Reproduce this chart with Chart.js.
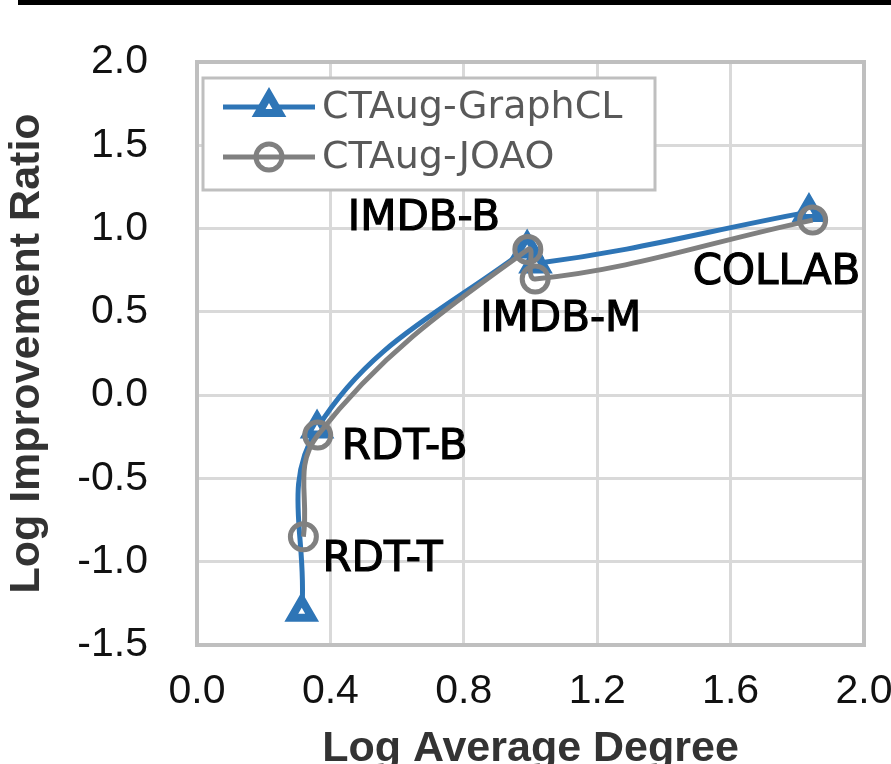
<!DOCTYPE html>
<html>
<head>
<meta charset="utf-8">
<script src="https://cdn.jsdelivr.net/npm/chart.js@4"></script>
<style>
	html, body { margin: 0; padding: 0; background: #fff; overflow: hidden; }
	.quadro { position: relative; width: 891px; height: 764px; }
	.barra { position: absolute; left: 18px; top: 0; width: 873px; height: 5px; background: #000; }
</style>
</head>
<body>
<div class="quadro">
	<canvas id="grafico" width="891" height="764"></canvas>
	<div class="barra"></div>
</div>
<script>
// dados
const datasets_nomes = ["RDT-T", "RDT-B", "IMDB-B", "IMDB-M", "COLLAB"]
const graphcl_x = [0.314, 0.36, 0.99, 1.015, 1.835]
const graphcl_y = [-1.30, -0.20, 0.88, 0.79, 1.10]
const joao_x = [0.319, 0.362, 0.992, 1.014, 1.846]
const joao_y = [-0.85, -0.24, 0.874, 0.697, 1.051]
const series_nomes = ["CTAug-GraphCL", "CTAug-JOAO"]
const x_ticks = [0.0, 0.4, 0.8, 1.2, 1.6, 2.0]
const y_ticks = [-1.5, -1.0, -0.5, 0.0, 0.5, 1.0, 1.5, 2.0]

const AZUL = "#2e75b6"
const CINZA = "#808080"

// deslocamento dos rotulos (px) em relacao ao ponto do JOAO
const rotulo_offset = [[19, 23], [24, 13], [-180, -30], [-55, 41], [-120, 53]]

function pontos(xs, ys) {
	return xs.map((x, i) => ({ x: x, y: ys[i] }))
}

function semPadding(scale) {
	scale.paddingLeft = 0
	scale.paddingRight = 0
	scale.paddingTop = 0
	scale.paddingBottom = 0
}

var moldura = {
	id: "moldura",
	afterDraw(chart) {
		const { ctx, chartArea } = chart
		ctx.save()
		ctx.strokeStyle = "#bfbfbf"
		ctx.lineWidth = 4
		ctx.strokeRect(chartArea.left, chartArea.top, chartArea.right - chartArea.left, chartArea.bottom - chartArea.top)
		ctx.restore()
	}
}

var rotulos = {
	id: "rotulos",
	afterDatasetsDraw(chart) {
		const ctx = chart.ctx
		const meta = chart.getDatasetMeta(1)
		ctx.save()
		ctx.font = "42px 'DejaVu Sans'"
		ctx.fillStyle = "#000"
		ctx.strokeStyle = "#000"
		ctx.lineWidth = 1.2
		ctx.textAlign = "left"
		ctx.textBaseline = "middle"
		meta.data.forEach((p, i) => {
			let x = p.x + rotulo_offset[i][0]
			let y = p.y + rotulo_offset[i][1]
			ctx.fillText(datasets_nomes[i], x, y)
			ctx.strokeText(datasets_nomes[i], x, y)
		})
		ctx.restore()
	}
}

var legenda = {
	id: "legenda",
	afterDraw(chart) {
		const ctx = chart.ctx
		ctx.save()
		ctx.fillStyle = "#fff"
		ctx.fillRect(203, 78, 452, 112)
		ctx.strokeStyle = "#bfbfbf"
		ctx.lineWidth = 3
		ctx.strokeRect(203, 78, 452, 112)
		chart.data.datasets.forEach((ds, i) => {
			const y = 107 + i * 50
			ctx.strokeStyle = ds.borderColor
			ctx.lineWidth = ds.borderWidth
			ctx.beginPath()
			ctx.moveTo(223, y)
			ctx.lineTo(315, y)
			ctx.stroke()
			ctx.fillStyle = ds.pointBackgroundColor
			ctx.lineWidth = ds.pointBorderWidth
			Chart.helpers.drawPoint(ctx, { pointStyle: ds.pointStyle, radius: ds.pointRadius, borderWidth: ds.pointBorderWidth, rotation: 0 }, 269, y)
			ctx.fillStyle = "#595959"
			ctx.font = "38px 'DejaVu Sans'"
			ctx.textAlign = "left"
			ctx.textBaseline = "middle"
			ctx.fillText(series_nomes[i], 322, y + 1)
		})
		ctx.restore()
	}
}

var config = {
	type: "line",
	data: {
		datasets: [
			{
				label: series_nomes[0],
				data: pontos(graphcl_x, graphcl_y),
				borderColor: AZUL,
				backgroundColor: "#fff",
				borderWidth: 5,
				pointStyle: "triangle",
				pointRadius: 12,
				pointBorderWidth: 8,
				pointBackgroundColor: "#fff",
				tension: 0.4,
				order: 1
			},
			{
				label: series_nomes[1],
				data: pontos(joao_x, joao_y),
				borderColor: CINZA,
				backgroundColor: "rgba(0,0,0,0)",
				borderWidth: 5,
				pointStyle: "circle",
				pointRadius: 13,
				pointBorderWidth: 5,
				pointBackgroundColor: "rgba(255,255,255,0)",
				tension: 0.4,
				order: 0
			}
		]
	},
	options: {
		responsive: false,
		devicePixelRatio: 1,
		animation: false,
		layout: { padding: { top: 62, right: 27, left: 0, bottom: 0 } },
		plugins: {
			legend: { display: false },
			tooltip: { enabled: false }
		},
		scales: {
			x: {
				type: "linear",
				min: 0,
				max: 2,
				afterFit(scale) { scale.height = 119; semPadding(scale) },
				afterBuildTicks(scale) { scale.ticks = x_ticks.map(v => ({ value: v })) },
				grid: { color: "#d9d9d9", lineWidth: 3, drawTicks: false },
				border: { display: false },
				ticks: {
					padding: 22,
					color: "#111",
					font: { family: "'Liberation Sans', Arial", size: 41 },
					callback: v => v.toFixed(1)
				},
				title: {
					display: true,
					text: "Log Average Degree",
					color: "#333",
					padding: { top: 0, bottom: -7 },
					font: { family: "'Liberation Sans', Arial", size: 43, weight: "bold", lineHeight: 1 }
				}
			},
			y: {
				type: "linear",
				min: -1.5,
				max: 2,
				afterFit(scale) { scale.width = 197; semPadding(scale) },
				afterBuildTicks(scale) { scale.ticks = y_ticks.map(v => ({ value: v })) },
				grid: { color: "#d9d9d9", lineWidth: 3, drawTicks: false },
				border: { display: false },
				ticks: {
					padding: 49,
					color: "#111",
					font: { family: "'Liberation Sans', Arial", size: 41 },
					callback: v => v.toFixed(1)
				},
				title: {
					display: true,
					text: "Log Improvement Ratio",
					color: "#333",
					padding: { top: 6, bottom: 0 },
					font: { family: "'Liberation Sans', Arial", size: 43, weight: "bold", lineHeight: 1 }
				}
			}
		}
	},
	plugins: [moldura, rotulos, legenda]
}

var grafico = new Chart(document.getElementById("grafico"), config)
</script>
</body>
</html>
